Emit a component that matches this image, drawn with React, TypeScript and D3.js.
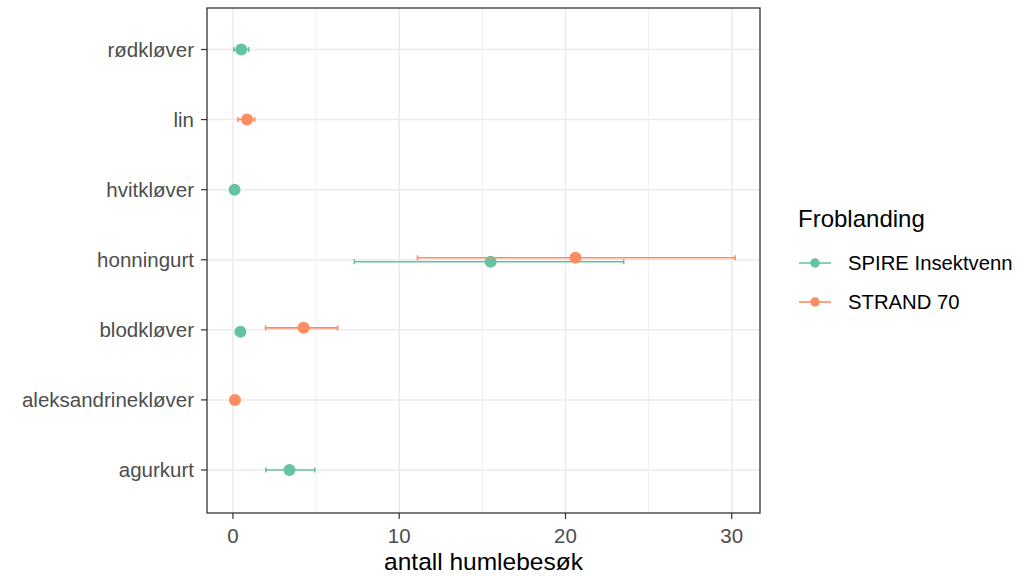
import React from "react";
import * as d3 from "d3";

// plants, top to bottom
const plants = ["rødkløver", "lin", "hvitkløver", "honningurt", "blodkløver", "aleksandrinekløver", "agurkurt"];
const groups = ["SPIRE Insektvenn", "STRAND 70"];
const colors = ["#66C2A5", "#FC8D62"];

// mean and interval per mix
const spirePlants = ["rødkløver", "hvitkløver", "honningurt", "blodkløver", "agurkurt"];
const spireMean = [0.5, 0.1, 15.5, 0.45, 3.4];
const spireLow = [0.05, 0.05, 7.3, 0.4, 1.98];
const spireHigh = [0.95, 0.15, 23.5, 0.5, 4.92];

const strandPlants = ["lin", "honningurt", "blodkløver", "aleksandrinekløver"];
const strandMean = [0.85, 20.6, 4.25, 0.12];
const strandLow = [0.3, 11.1, 1.96, 0.08];
const strandHigh = [1.3, 30.2, 6.3, 0.16];

const xTicks = [0, 10, 20, 30];
const xMinor = [5, 15, 25];

const W = 1018, H = 576;
const left = 207, right = 760, top = 8, bottom = 513;
const font = "'Liberation Sans', Arial, sans-serif";

export default function App() {
  const x = d3.scaleLinear().domain([-1.56, 31.7]).range([left, right]);
  const y = d3.scalePoint().domain(plants).range([49.5, 470]);

  const rows = [
    ...spirePlants.map((p, i) => ({ p, g: 0, m: spireMean[i], lo: spireLow[i], hi: spireHigh[i] })),
    ...strandPlants.map((p, i) => ({ p, g: 1, m: strandMean[i], lo: strandLow[i], hi: strandHigh[i] })),
  ];
  const both = (p: string) => spirePlants.includes(p) && strandPlants.includes(p);
  const yy = (r: any) => (y(r.p) as number) + (both(r.p) ? (r.g === 0 ? 2 : -2) : 0);

  return (
    <svg width={W} height={H} style={{ position: "absolute", left: 0, top: 0, background: "#fff" }}>
      <rect x={left} y={top} width={right - left} height={bottom - top} fill="#fff" />
      {xMinor.map(t => (
        <line key={"m" + t} x1={x(t)} x2={x(t)} y1={top} y2={bottom} stroke="#EBEBEB" strokeWidth={0.8} />
      ))}
      {xTicks.map(t => (
        <line key={"g" + t} x1={x(t)} x2={x(t)} y1={top} y2={bottom} stroke="#EBEBEB" strokeWidth={1.5} />
      ))}
      {plants.map(p => (
        <line key={"h" + p} x1={left} x2={right} y1={y(p)} y2={y(p)} stroke="#EBEBEB" strokeWidth={1.5} />
      ))}
      {rows.map((r, i) => {
        const cy = yy(r);
        const c = colors[r.g];
        return (
          <g key={i}>
            <line x1={x(r.lo)} x2={x(r.hi)} y1={cy} y2={cy} stroke={c} strokeWidth={1.6} />
            <line x1={x(r.lo)} x2={x(r.lo)} y1={cy - 2.5} y2={cy + 2.5} stroke={c} strokeWidth={1.6} />
            <line x1={x(r.hi)} x2={x(r.hi)} y1={cy - 2.5} y2={cy + 2.5} stroke={c} strokeWidth={1.6} />
            <circle cx={x(r.m)} cy={cy} r={6} fill={c} />
          </g>
        );
      })}
      <rect x={left} y={top} width={right - left} height={bottom - top} fill="none" stroke="#333333" strokeWidth={1.3} />
      {plants.map(p => (
        <g key={"yl" + p}>
          <line x1={left - 6} x2={left} y1={y(p)} y2={y(p)} stroke="#333333" strokeWidth={1.2} />
          <text x={left - 13} y={y(p)} dy="0.35em" textAnchor="end" fontFamily={font} fontSize={20.5} fill="#4D4D4D">{p}</text>
        </g>
      ))}
      {xTicks.map(t => (
        <g key={"xl" + t}>
          <line x1={x(t)} x2={x(t)} y1={bottom} y2={bottom + 6} stroke="#333333" strokeWidth={1.2} />
          <text x={x(t)} y={543} textAnchor="middle" fontFamily={font} fontSize={20.5} fill="#4D4D4D">{t}</text>
        </g>
      ))}
      <text x={(left + right) / 2} y={570} textAnchor="middle" fontFamily={font} fontSize={24.5} fill="#000">antall humlebesøk</text>
      <text x={798} y={227} fontFamily={font} fontSize={24} fill="#000">Froblanding</text>
      {groups.map((g, i) => {
        const ly = 263 + i * 39;
        return (
          <g key={g}>
            <line x1={799} x2={831} y1={ly} y2={ly} stroke={colors[i]} strokeWidth={1.6} />
            <circle cx={815} cy={ly} r={4.7} fill={colors[i]} />
            <text x={848} y={ly} dy="0.35em" fontFamily={font} fontSize={20.3} fill="#000">{g}</text>
          </g>
        );
      })}
    </svg>
  );
}
